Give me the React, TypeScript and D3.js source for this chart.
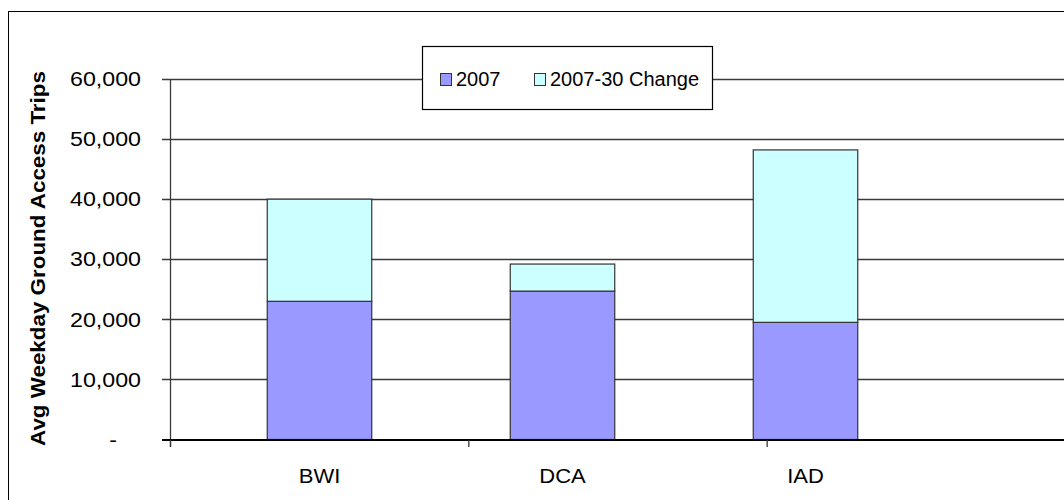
import React from "react";
import * as d3 from "d3";

const categories = ["BWI", "DCA", "IAD"];
const base2007 = [23000, 24700, 19500];
const change2007_30 = [17000, 4500, 28700];
const seriesNames = ["2007", "2007-30 Change"];
const yTicks = [0, 10000, 20000, 30000, 40000, 50000, 60000];
const yTitle = "Avg Weekday Ground Access Trips";

const colors = ["#9999FF", "#CCFFFF"];
const FONT = "'Liberation Sans', Arial, sans-serif";

export default function App() {
  const W = 1064;
  const H = 500;
  const plotLeft = 170;
  const plotRight = 1065;
  const y = d3.scaleLinear().domain([0, 60000]).range([439.5, 79]);
  const x = d3
    .scaleBand<string>()
    .domain(categories)
    .range([198, 927])
    .paddingInner(0.57)
    .paddingOuter(0.285);
  const boundary = d3.scaleLinear().domain([0, 3]).range([plotLeft, plotRight]);

  const stacked = d3
    .stack<any>()
    .keys(["a", "b"])(categories.map((c, i) => ({ cat: c, a: base2007[i], b: change2007_30[i] })));

  const fmt = d3.format(",");

  return (
    <svg
      width={W}
      height={H}
      style={{ position: "absolute", left: 0, top: 0, background: "#fff" }}
      fontFamily={FONT}
    >
      <rect x={8.5} y={11.5} width={1200} height={700} fill="#fff" stroke="#000" strokeWidth={1} />
      {/* gridlines */}
      {yTicks.map((t) =>
        t === 0 ? null : (
          <line key={t} x1={162} x2={W} y1={Math.round(y(t)) + 0.5} y2={Math.round(y(t)) + 0.5} stroke="#3a3a3a" strokeWidth={1.3} />
        )
      )}
      {/* y axis */}
      <line x1={plotLeft + 0.5} x2={plotLeft + 0.5} y1={y(60000)} y2={447} stroke="#3a3a3a" strokeWidth={1.3} />
      {/* tick labels */}
      {yTicks.map((t) => (
        <text
          key={"l" + t}
          transform={`translate(${t === 0 ? 117 : 141},${y(t)}) scale(1.16,1)`}
          dy="0.36em"
          textAnchor="end"
          fontSize={20}
          fill="#000"
        >
          {t === 0 ? "-" : fmt(t)}
        </text>
      ))}
      {/* bars */}
      {stacked.map((layer, li) =>
        layer.map((d, i) => (
          <rect
            key={li + "-" + i}
            x={x(categories[i])!}
            y={y(d[1])}
            width={x.bandwidth()}
            height={y(d[0]) - y(d[1])}
            fill={colors[li]}
            stroke="#333"
            strokeWidth={1.2}
          />
        ))
      )}
      {/* x axis */}
      <line x1={162} x2={W} y1={440} y2={440} stroke="#000" strokeWidth={2.2} />
      {[0, 1, 2, 3].map((k) => (
        <line key={"xt" + k} x1={boundary(k) + 0.5} x2={boundary(k) + 0.5} y1={440} y2={447} stroke="#3a3a3a" strokeWidth={1.3} />
      ))}
      {categories.map((c) => (
        <text
          key={c}
          transform={`translate(${x(c)! + x.bandwidth() / 2},483) scale(1.1,1)`}
          textAnchor="middle"
          fontSize={20}
          fill="#000"
        >
          {c}
        </text>
      ))}
      {/* y title */}
      <text
        transform={`translate(45,${(70 + 447) / 2}) rotate(-90) scale(1.12,1)`}
        textAnchor="middle"
        fontSize={20}
        fontWeight="bold"
        fill="#000"
      >
        {yTitle}
      </text>
      {/* legend */}
      <g>
        <rect x={422.5} y={46.5} width={290} height={63} fill="#fff" stroke="#000" strokeWidth={1.2} />
        {seriesNames.map((s, i) => {
          const lx = i === 0 ? 440 : 534;
          return (
            <g key={s}>
              <rect x={lx + 0.5} y={73.5} width={11} height={12} fill={colors[i]} stroke="#333" strokeWidth={1} />
              <text x={lx + 16} y={86} fontSize={20} fill="#000">
                {s}
              </text>
            </g>
          );
        })}
      </g>
    </svg>
  );
}
